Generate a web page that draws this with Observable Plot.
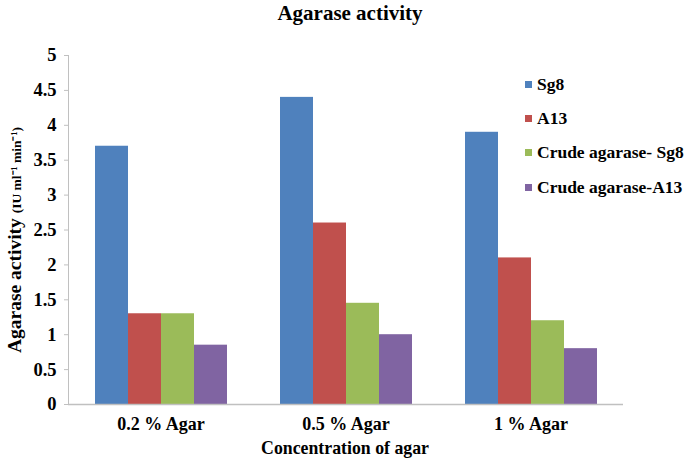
<!DOCTYPE html>
<html>
<head>
<meta charset="utf-8">
<script src="https://cdn.jsdelivr.net/npm/d3@7"></script>
<script src="https://cdn.jsdelivr.net/npm/@observablehq/plot@0.6"></script>
<style>
  html, body { margin: 0; padding: 0; background: white; }
  #wrap { position: relative; width: 689px; height: 462px; font-family: "Liberation Serif", Tinos, "Times New Roman", Times, serif; font-weight: bold; color: black; }
  #wrap svg { display: block; }
  #wrap svg text { font-family: "Liberation Serif", Tinos, "Times New Roman", Times, serif; }
  .title { position: absolute; left: 0; width: 700px; top: 1px; text-align: center; font-size: 21px; }
  .ytitle { position: absolute; left: 15px; top: 240px; transform: translate(-50%, -50%) rotate(-90deg); white-space: nowrap; font-size: 19.5px; }
  .ytitle .unit { font-size: 13.5px; }
  .xtitle { position: absolute; left: 67px; width: 556px; top: 438px; text-align: center; font-size: 17.8px; }
  .legend { position: absolute; left: 525px; top: 67px; font-size: 17.5px; }
  .legend .row { height: 34.3px; display: flex; align-items: center; white-space: nowrap; }
  .legend .sw { width: 7px; height: 7px; margin-right: 5px; }
</style>
</head>
<body>
<div id="wrap">
  <div class="title">Agarase activity</div>
  <div class="ytitle">Agarase activity <span class="unit">(IU ml⁻¹ min⁻¹)</span></div>
  <div class="xtitle">Concentration of agar</div>
  <div class="legend" id="legend"></div>
</div>
<script>
const categories = ["0.2 % Agar", "0.5 % Agar", "1 % Agar"];
const series = ["Sg8", "A13", "Crude agarase- Sg8", "Crude agarase-A13"];
const sg8 = [3.7, 4.4, 3.9];
const a13 = [1.3, 2.6, 2.1];
const crudeSg8 = [1.3, 1.45, 1.2];
const crudeA13 = [0.85, 1.0, 0.8];
const colors = ["#4F81BD", "#C0504D", "#9BBB59", "#8064A2"];
const yTicks = [0, 0.5, 1, 1.5, 2, 2.5, 3, 3.5, 4, 4.5, 5];

const valuesBySeries = [sg8, a13, crudeSg8, crudeA13];
const data = [];
categories.forEach((cat, i) => {
  series.forEach((s, j) => {
    data.push({cat, series: s, value: valuesBySeries[j][i]});
  });
});

const chart = Plot.plot({
  width: 689,
  height: 462,
  marginTop: 55,
  marginBottom: 58,
  marginLeft: 67,
  marginRight: 66,
  style: {fontFamily: "Liberation Serif, Tinos, Times New Roman, serif", fontWeight: "bold", fontSize: "18px", color: "black", background: "transparent"},
  fx: {domain: categories, padding: 0, label: null},
  x: {domain: series, paddingInner: 0, paddingOuter: 0.74, axis: null},
  y: {domain: [0, 5], label: null},
  color: {domain: series, range: colors},
  marks: [
    Plot.barY(data, {fx: "cat", x: "series", y: "value", fill: "series"}),
    Plot.ruleY([0], {stroke: "#c0c0c0", strokeWidth: 1.5}),
    Plot.frame({anchor: "left", stroke: "#c0c0c0", facetAnchor: "left"}),
    Plot.axisY({ticks: yTicks, tickFormat: d => String(d), tickSize: 4, tickPadding: 8, fontSize: 18.5, stroke: "#c0c0c0", fill: "black", label: null}),
    Plot.axisFx({anchor: "bottom", tickSize: 0, tickPadding: 13, fontSize: 18, label: null})
  ]
});
const wrap = document.getElementById("wrap");
wrap.insertBefore(chart, wrap.firstChild);

const legend = document.getElementById("legend");
series.forEach((s, j) => {
  const row = document.createElement("div");
  row.className = "row";
  const sw = document.createElement("div");
  sw.className = "sw";
  sw.style.background = colors[j];
  const t = document.createElement("span");
  t.textContent = s;
  row.appendChild(sw);
  row.appendChild(t);
  legend.appendChild(row);
});
</script>
</body>
</html>
